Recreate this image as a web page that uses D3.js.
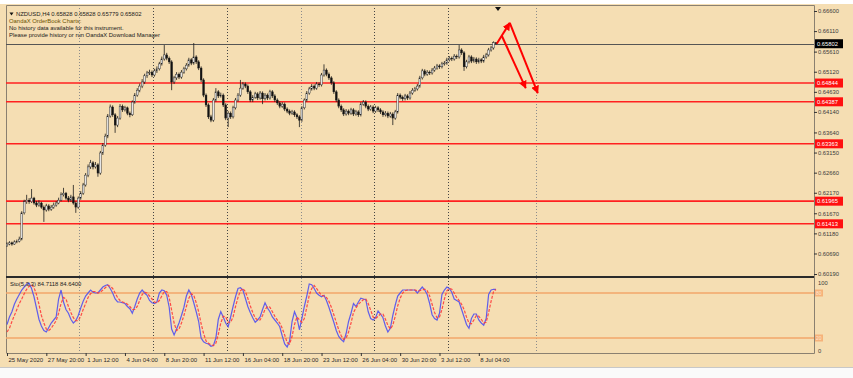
<!DOCTYPE html>
<html>
<head>
<meta charset="utf-8">
<script src="https://cdn.jsdelivr.net/npm/d3@7"></script>
<style>
  body { margin: 0; background: #fff; }
  svg { display: block; font-family: "Liberation Sans", Arial, sans-serif; }
</style>
</head>
<body>
<svg id="chart" width="853" height="378"></svg>
<script>
// NZDUSD H4 candles, prices in pips (x 10000)
let opens = [6088,6092,6095,6092,6097,6099,6104,6168,6195,6199,
  6195,6204,6192,6187,6192,6182,6175,6185,6177,6182,
  6187,6192,6199,6212,6216,6204,6199,6207,6192,6182,
  6204,6216,6236,6260,6280,6290,6280,6285,6265,6314,
  6333,6355,6404,6426,6407,6382,6399,6428,6419,6424,
  6411,6407,6438,6455,6467,6477,6487,6502,6509,6511,
  6504,6514,6519,6531,6543,6553,6545,6536,6487,6497,
  6506,6499,6511,6519,6528,6541,6533,6548,6536,6521,
  6492,6455,6431,6402,6394,6443,6463,6453,6455,6431,
  6399,6411,6402,6424,6443,6455,6472,6482,6477,6463,
  6443,6450,6458,6448,6460,6446,6455,6448,6463,6453,
  6443,6436,6428,6433,6421,6416,6411,6414,6407,6402,
  6394,6424,6443,6460,6470,6477,6472,6482,6480,6504,
  6516,6506,6497,6485,6463,6443,6428,6419,6409,6416,
  6411,6419,6409,6414,6407,6433,6438,6428,6421,6426,
  6416,6424,6419,6414,6407,6411,6404,6409,6399,6414,
  6455,6450,6446,6453,6448,6460,6467,6470,6477,6497,
  6514,6506,6511,6509,6516,6521,6526,6524,6531,6533,
  6541,6545,6543,6550,6548,6565,6558,6524,6536,6548,
  6538,6543,6536,6541,6538,6548,6553,6565,6570,6582.8];
let highs = [6096,6099,6098,6101,6103,6110,6172,6200,6212,6204,
  6226,6207,6197,6199,6195,6186,6190,6189,6187,6193,
  6197,6205,6218,6229,6219,6209,6212,6236,6196,6208,
  6221,6241,6265,6286,6297,6294,6292,6289,6319,6338,
  6361,6409,6432,6430,6411,6404,6433,6432,6429,6427,
  6415,6442,6460,6472,6483,6494,6507,6514,6517,6515,
  6519,6525,6536,6549,6577,6558,6549,6540,6502,6511,
  6510,6516,6524,6533,6546,6545,6582,6552,6540,6525,
  6496,6459,6435,6407,6448,6472,6467,6461,6459,6435,
  6416,6415,6429,6448,6460,6492,6487,6486,6481,6467,
  6455,6463,6462,6465,6464,6460,6459,6468,6467,6457,
  6447,6440,6438,6437,6425,6420,6419,6418,6411,6406,
  6428,6447,6465,6475,6482,6481,6487,6486,6509,6530,
  6520,6510,6501,6489,6467,6447,6432,6423,6421,6420,
  6424,6423,6419,6418,6438,6443,6442,6432,6431,6430,
  6429,6428,6423,6418,6416,6415,6414,6413,6419,6460,
  6459,6454,6458,6457,6465,6472,6475,6482,6502,6519,
  6518,6516,6515,6521,6526,6531,6530,6536,6538,6546,
  6550,6549,6555,6554,6577,6569,6562,6541,6553,6552,
  6548,6547,6546,6545,6553,6558,6570,6575,6586,6582.8];
let lows = [6085,6089,6088,6090,6094,6096,6101,6164,6190,6190,
  6192,6188,6182,6183,6178,6146,6171,6172,6173,6178,
  6183,6189,6196,6208,6200,6194,6195,6188,6168,6178,
  6200,6212,6232,6255,6275,6274,6276,6256,6261,6309,
  6329,6350,6400,6402,6363,6377,6395,6414,6415,6406,
  6401,6404,6434,6451,6462,6472,6482,6497,6504,6499,
  6500,6509,6515,6527,6539,6540,6531,6467,6482,6492,
  6494,6495,6507,6515,6524,6528,6529,6531,6516,6487,
  6450,6426,6397,6389,6390,6439,6448,6449,6426,6394,
  6377,6397,6398,6420,6439,6451,6468,6472,6458,6438,
  6438,6446,6443,6444,6433,6442,6443,6444,6448,6438,
  6431,6423,6424,6416,6411,6406,6407,6402,6397,6377,
  6390,6420,6439,6456,6466,6467,6468,6475,6476,6500,
  6501,6492,6480,6458,6438,6423,6414,6404,6405,6406,
  6407,6404,6405,6402,6403,6429,6423,6416,6417,6411,
  6412,6414,6409,6402,6403,6399,6400,6382,6395,6410,
  6445,6441,6442,6443,6444,6456,6463,6466,6473,6493,
  6501,6502,6504,6505,6512,6517,6519,6520,6527,6529,
  6537,6538,6539,6543,6544,6553,6514,6520,6532,6533,
  6534,6531,6532,6533,6534,6544,6549,6561,6566,6577.9];
let closes = [6092,6095,6092,6097,6099,6104,6168,6195,6199,6195,
  6204,6192,6187,6192,6182,6175,6185,6177,6182,6187,
  6192,6199,6212,6216,6204,6199,6207,6192,6182,6204,
  6216,6236,6260,6280,6290,6280,6285,6265,6314,6333,
  6355,6404,6426,6407,6382,6399,6428,6419,6424,6411,
  6407,6438,6455,6467,6477,6487,6502,6509,6511,6504,
  6514,6519,6531,6543,6553,6545,6536,6487,6497,6506,
  6499,6511,6519,6528,6541,6533,6548,6536,6521,6492,
  6455,6431,6402,6394,6443,6463,6453,6455,6431,6399,
  6411,6402,6424,6443,6455,6472,6482,6477,6463,6443,
  6450,6458,6448,6460,6446,6455,6448,6463,6453,6443,
  6436,6428,6433,6421,6416,6411,6414,6407,6402,6394,
  6424,6443,6460,6470,6477,6472,6482,6480,6504,6516,
  6506,6497,6485,6463,6443,6428,6419,6409,6416,6411,
  6419,6409,6414,6407,6433,6438,6428,6421,6426,6416,
  6424,6419,6414,6407,6411,6404,6409,6399,6414,6455,
  6450,6446,6453,6448,6460,6467,6470,6477,6497,6514,
  6506,6511,6509,6516,6521,6526,6524,6531,6533,6541,
  6545,6543,6550,6548,6565,6558,6524,6536,6548,6538,
  6543,6536,6541,6538,6548,6553,6565,6570,6582.8,6580.2];

// Stochastic(5,3,3) main and signal
let stoK = [38,48,55,65,72,78,84,88,92,93,
  86,75,60,45,36,30,28,34,40,44,
  48,72,84,68,58,53,45,40,43,50,
  60,69,76,80,84,81,80,80,84,88,
  90,91,86,80,72,68,68,67,66,62,
  59,53,62,72,80,84,80,77,70,67,
  66,68,80,84,83,77,61,32,24,32,
  40,50,61,76,84,78,67,55,42,20,
  15,13,12,9,10,20,45,55,48,40,
  35,48,62,75,86,87,84,73,62,54,
  47,41,44,48,58,67,60,55,48,44,
  40,35,23,12,8,16,42,55,47,31,
  46,62,76,92,91,86,80,77,75,77,
  70,61,51,41,30,22,18,15,26,42,
  53,66,62,68,73,72,71,55,46,44,
  47,56,52,47,36,28,33,50,64,76,
  80,84,84,84,84,84,84,80,84,88,
  84,78,66,51,46,44,53,78,84,88,
  86,81,72,70,68,58,48,38,33,46,
  52,52,44,40,37,46,78,84,85,84.7118];
let stoD = [28,33,42,50,58,66,72,79,85,89,
  91,87,78,65,50,40,32,30,33,38,
  43,53,66,74,72,62,54,47,43,43,
  49,58,66,74,79,82,82,80,81,84,
  87,90,89,86,80,74,70,68,67,65,
  62,58,58,62,70,78,81,80,76,72,
  68,67,70,76,82,82,74,57,40,30,
  32,40,50,62,73,79,77,67,55,39,
  26,16,13,11,10,13,25,40,49,48,
  41,41,48,62,74,83,86,82,73,63,
  54,47,44,44,50,58,62,61,55,49,
  44,40,33,24,14,12,22,38,48,44,
  41,46,61,77,86,90,86,81,77,76,
  74,69,61,51,41,31,23,18,20,28,
  40,54,60,65,68,71,72,66,57,48,
  46,49,52,52,45,37,32,37,49,63,
  73,80,83,84,84,84,84,83,83,84,
  85,83,76,65,54,47,48,58,72,83,
  86,85,80,74,70,65,58,48,40,39,
  44,50,49,45,40,41,54,69,82,84.64];

let priceTicks = [0.66600,0.66110,0.65610,0.65120,0.64630,0.64140,0.63640,
  0.63150,0.62660,0.62170,0.61670,0.61180,0.60690,0.60190];
let levels = [0.64844,0.64387,0.63363,0.61965,0.61413];
let lastPrice = 0.65802;
let timeLabels = ["25 May 2020","27 May 20:00","1 Jun 12:00","4 Jun 04:00","8 Jun 20:00",
  "11 Jun 12:00","16 Jun 04:00","18 Jun 20:00","23 Jun 12:00","26 Jun 04:00",
  "30 Jun 20:00","3 Jul 12:00","8 Jul 04:00"];
let timeTickBars = [0,16,32,48,64,80,96,112,128,144,160,176,192];
let gridBars = [29.3,59.4,89.5,119.6,149.3,179.4,215.2];
let stoLevels = [80,20];
// hand drawn arrows: [bar, price]
let arrows = [
  [[199.3,0.65800],[204.6,0.66310]],
  [[204.6,0.66310],[216.0,0.64600]],
  [[201.4,0.65990],[211.1,0.64720]]
];

let svg = d3.select("#chart");
let bg = "#f5deb3";
let L = 6, R = 814, mainTop = 5, mainBottom = 277, subTop = 278, subBottom = 353;

let x = d3.scaleLinear().domain([0, 328]).range([7, 813]);
let y = d3.scaleLinear().domain([0.60190, 0.66600]).range([274, 11]);
let ys = d3.scaleLinear().domain([0, 100]).range([353, 278]);

// backgrounds
svg.append("rect").attr("width", 853).attr("height", 378).attr("fill", bg);
svg.append("rect").attr("width", 853).attr("height", 4).attr("fill", "#fff");
svg.append("rect").attr("y", 367).attr("width", 853).attr("height", 11).attr("fill", "#fafafa");
svg.append("line").attr("x1", 0).attr("x2", 853).attr("y1", 367.5).attr("y2", 367.5)
  .attr("stroke", "#c8c8c8");

let defs = svg.append("defs");
defs.append("clipPath").attr("id", "clipMain").append("rect")
  .attr("x", L).attr("y", mainTop).attr("width", R - L).attr("height", mainBottom - mainTop);
defs.append("clipPath").attr("id", "clipSub").append("rect")
  .attr("x", L).attr("y", subTop).attr("width", R - L).attr("height", subBottom - subTop);
defs.append("marker").attr("id", "arr").attr("viewBox", "0 0 10 10")
  .attr("refX", 9).attr("refY", 5).attr("markerWidth", 4).attr("markerHeight", 4)
  .attr("orient", "auto")
  .append("path").attr("d", "M0,0L10,5L0,10z").attr("fill", "#ff0000");

// vertical grid
svg.append("g").selectAll("line").data(gridBars).enter().append("line")
  .attr("x1", d => Math.round(x(d)) + 0.5).attr("x2", d => Math.round(x(d)) + 0.5)
  .attr("y1", mainTop).attr("y2", subBottom)
  .attr("stroke", (d, i) => (i == 0 || i == 3 || i == 6) ? "#8c8c8c" : "#444")
  .attr("stroke-dasharray", "1,2");

// frame
svg.append("path")
  .attr("d", "M" + (L + 0.5) + "," + subBottom + "V" + (mainTop + 0.5) + "H" + (R + 0.5) + "V" + (subBottom + 0.5) + "H" + (L + 0.5))
  .attr("fill", "none").attr("stroke", "#8a8070");
svg.append("line").attr("x1", L).attr("x2", R).attr("y1", mainBottom).attr("y2", mainBottom)
  .attr("stroke", "#2a2a2a").attr("stroke-width", 2);

// support / resistance lines
let gMain = svg.append("g").attr("clip-path", "url(#clipMain)");
gMain.selectAll(".lvl").data(levels).enter().append("line")
  .attr("x1", L).attr("x2", R)
  .attr("y1", d => y(d)).attr("y2", d => y(d))
  .attr("stroke", "#ff2020").attr("stroke-width", 1.6);
gMain.append("line").attr("x1", L).attr("x2", R)
  .attr("y1", Math.round(y(lastPrice)) + 0.5).attr("y2", Math.round(y(lastPrice)) + 0.5)
  .attr("stroke", "#555").attr("stroke-width", 1);

// candles
let bars = closes.map((c, i) => ({ i: i, o: opens[i] / 1e4, h: highs[i] / 1e4, l: lows[i] / 1e4, c: c / 1e4 }));
gMain.selectAll(".wick").data(bars).enter().append("line")
  .attr("x1", d => x(d.i)).attr("x2", d => x(d.i))
  .attr("y1", d => y(d.h)).attr("y2", d => y(d.l))
  .attr("stroke", "#1a1a1a").attr("stroke-width", 0.8);
gMain.selectAll(".body").data(bars).enter().append("rect")
  .attr("x", d => x(d.i) - 0.9)
  .attr("width", 1.8)
  .attr("y", d => y(Math.max(d.o, d.c)))
  .attr("height", d => Math.max(0.8, Math.abs(y(d.o) - y(d.c))))
  .attr("fill", d => d.c >= d.o ? "#e6e6e6" : "#111")
  .attr("stroke", "#1a1a1a").attr("stroke-width", 0.4);

// arrows
gMain.selectAll(".arrow").data(arrows).enter().append("line")
  .attr("x1", d => x(d[0][0])).attr("y1", d => y(d[0][1]))
  .attr("x2", d => x(d[1][0])).attr("y2", d => y(d[1][1]))
  .attr("stroke", "#ff0000").attr("stroke-width", 2)
  .attr("marker-end", "url(#arr)");

// chart shift marker
svg.append("path")
  .attr("d", "M" + (x(199.8) - 3) + ",7L" + (x(199.8) + 3) + ",7L" + x(199.8) + ",11z")
  .attr("fill", "#111");

// price axis
let axP = svg.append("g").attr("transform", "translate(" + R + ",0)")
  .call(d3.axisRight(y).tickValues(priceTicks).tickFormat(d3.format(".5f")).tickSize(3).tickPadding(1));
axP.select(".domain").remove();
axP.selectAll("line").attr("stroke", "#333");
axP.selectAll("text").attr("font-size", "5.8px").attr("fill", "#3a3a3a")
  .attr("font-family", "Liberation Sans, Arial, sans-serif");

// price labels in boxes
let tags = levels.map(v => ({ v: v, fill: "#ff1010" })).concat([{ v: lastPrice, fill: "#000" }]);
let gTag = svg.append("g");
gTag.selectAll("rect").data(tags).enter().append("rect")
  .attr("x", R + 1).attr("y", d => y(d.v) - 4.5).attr("width", 28).attr("height", 9)
  .attr("fill", d => d.fill);
gTag.selectAll("text").data(tags).enter().append("text")
  .attr("x", R + 3).attr("y", d => y(d.v) + 2.2)
  .attr("font-size", "5.8px").attr("fill", "#fff")
  .text(d => d3.format(".5f")(d.v));

// stochastic sub window
let gSub = svg.append("g").attr("clip-path", "url(#clipSub)");
gSub.selectAll(".slvl").data(stoLevels).enter().append("line")
  .attr("x1", L).attr("x2", R).attr("y1", d => ys(d)).attr("y2", d => ys(d))
  .attr("stroke", "#f2a66a").attr("stroke-width", 1.5);
let line = d3.line().x((d, i) => x(i)).y(d => ys(d));
gSub.append("path").datum(stoK).attr("d", line)
  .attr("fill", "none").attr("stroke", "#5050f0").attr("stroke-width", 1.2).attr("opacity", 0.9);
gSub.append("path").datum(stoD).attr("d", line)
  .attr("fill", "none").attr("stroke", "#ff3a3a").attr("stroke-width", 1.2)
  .attr("stroke-dasharray", "3,1.5").attr("opacity", 0.9);

let axS = svg.append("g").attr("transform", "translate(" + R + ",0)")
  .call(d3.axisRight(ys).tickValues([100, 0]).tickSize(0).tickPadding(4));
axS.select(".domain").remove();
axS.selectAll("text").attr("font-size", "5.8px").attr("fill", "#3a3a3a")
  .attr("dy", d => d == 100 ? "1.1em" : "-0.1em");
let gSl = svg.append("g");
gSl.selectAll("rect").data(stoLevels).enter().append("rect")
  .attr("x", R + 1).attr("y", d => ys(d) - 3.5).attr("width", 8).attr("height", 7)
  .attr("fill", "#f6b27a");
gSl.selectAll("text").data(stoLevels).enter().append("text")
  .attr("x", R + 2).attr("y", d => ys(d) + 2)
  .attr("font-size", "5px").attr("fill", "#fde7d2").text(d => d);

// time axis
let axT = svg.append("g").attr("transform", "translate(0," + subBottom + ")")
  .call(d3.axisBottom(x).tickValues(timeTickBars).tickFormat((d, i) => timeLabels[i]).tickSize(3).tickPadding(2));
axT.select(".domain").remove();
axT.selectAll("line").attr("stroke", "#333");
axT.selectAll("text").attr("text-anchor", "start").attr("dx", "1px")
  .attr("font-size", "6px").attr("fill", "#2a2a2a");

// texts
let info = svg.append("g").attr("font-size", "5.9px");
info.append("path").attr("d", "M9.5,12.5L13.5,12.5L11.5,15.5z").attr("fill", "#111");
info.append("text").attr("x", 16).attr("y", 15.5).attr("fill", "#1a1a1a")
  .text("NZDUSD,H4  0.65828 0.65828 0.65779 0.65802");
info.append("text").attr("x", 9).attr("y", 22.5).attr("fill", "#6b5200")
  .text("OandaX OrderBook Charts:");
info.append("text").attr("x", 9).attr("y", 30).attr("fill", "#1a1a1a")
  .text("No history data available for this instrument.");
info.append("text").attr("x", 9).attr("y", 37.3).attr("fill", "#1a1a1a")
  .text("Please provide history or run OandaX Download Manager");
svg.append("text").attr("x", 10).attr("y", 285.5).attr("font-size", "5.9px").attr("fill", "#1a1a1a")
  .text("Sto(5,3,3) 84.7118 84.6400");
</script>
</body>
</html>
